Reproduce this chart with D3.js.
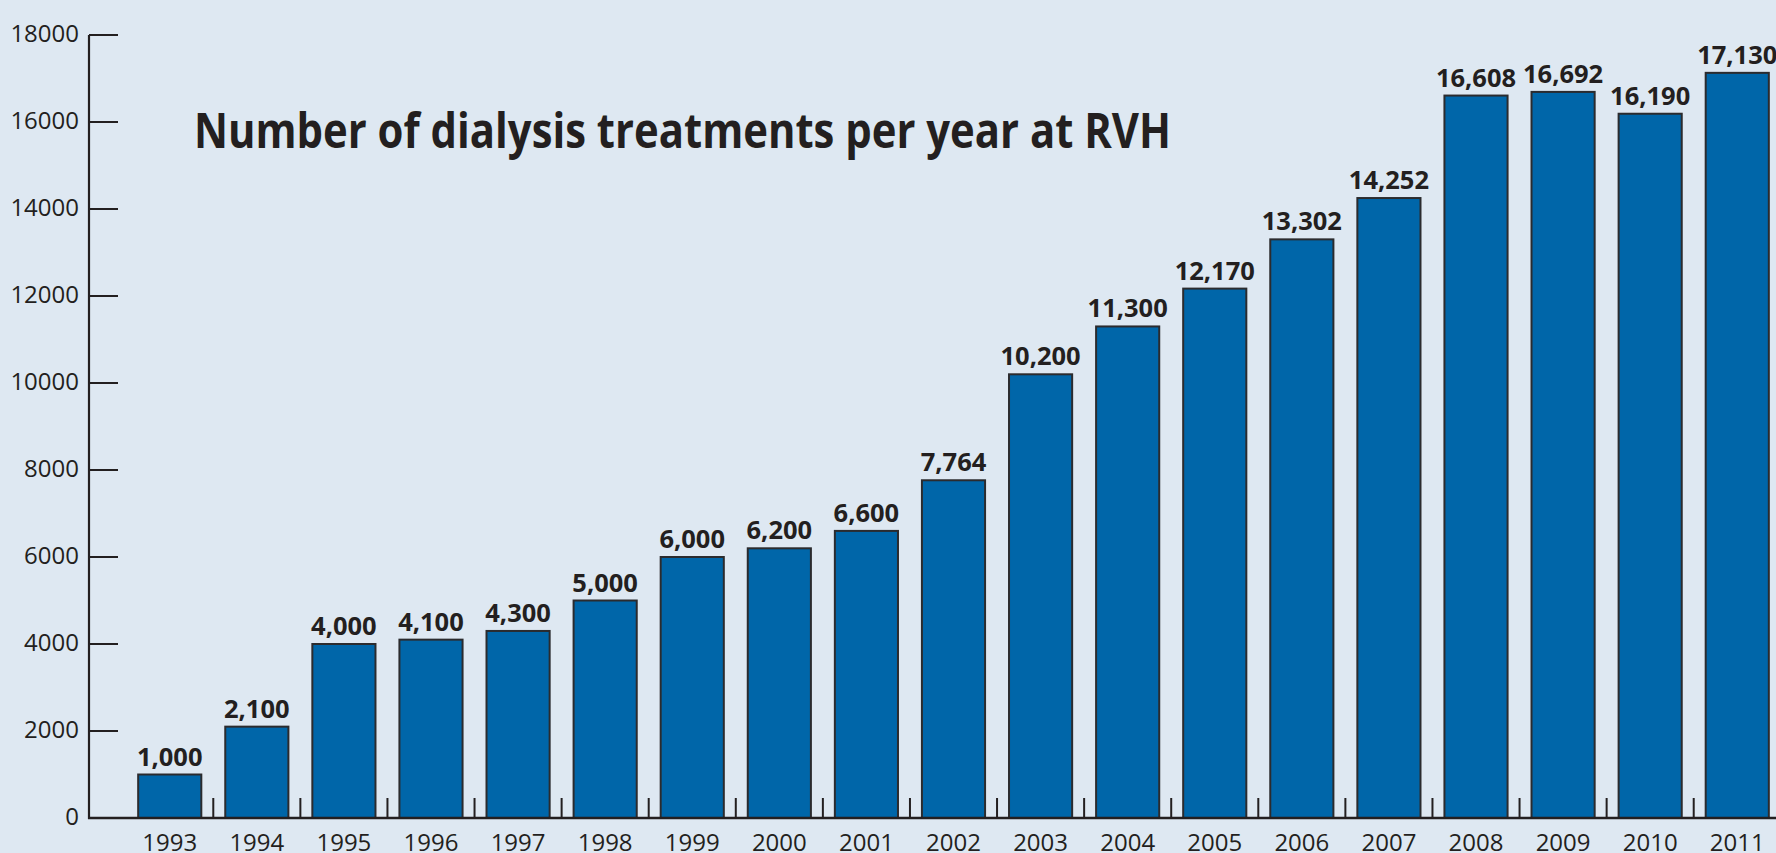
<!DOCTYPE html>
<html>
<head>
<meta charset="utf-8">
<script src="https://cdn.jsdelivr.net/npm/d3@7"></script>
<style>
    html, body { margin: 0; padding: 0; background: #dee8f2; overflow: hidden; }
    #chart { width: 1776px; height: 853px; }
    text { font-family: "Open Sans", "DejaVu Sans", sans-serif; fill: #231f20; }
</style>
</head>
<body>
<div id="chart"></div>
<script>
// data
const years = ["1993", "1994", "1995", "1996", "1997", "1998", "1999", "2000", "2001", "2002",
    "2003", "2004", "2005", "2006", "2007", "2008", "2009", "2010", "2011"]
const treatments = [1000, 2100, 4000, 4100, 4300, 5000, 6000, 6200, 6600, 7764,
    10200, 11300, 12170, 13302, 14252, 16608, 16692, 16190, 17130]
const yTicks = [0, 2000, 4000, 6000, 8000, 10000, 12000, 14000, 16000, 18000]
const chartTitle = "Number of dialysis treatments per year at RVH"

class BarChart {
    constructor(parentElement) {
        this.parentElement = parentElement
        this.initVis()
    }

    initVis() {
        let vis = this

        vis.width = 1776
        vis.height = 853

        vis.svg = d3.select("#" + vis.parentElement).append("svg")
            .attr("width", vis.width)
            .attr("height", vis.height)

        // scales
        vis.x = d3.scaleBand()
            .domain(years)
            .range([126.2, 1780.8])
            .paddingInner(0.275)
            .paddingOuter(0.1375)

        vis.y = d3.scaleLinear()
            .domain([0, 18000])
            .range([818, 35])

        vis.axisX = 89

        this.updateVis()
    }

    updateVis() {
        let vis = this
        let data = years.map((d, i) => ({year: d, value: treatments[i]}))
        let step = vis.x.step()
        let fmt = d3.format(",")

        // bars
        vis.svg.selectAll(".bar")
            .data(data)
            .enter()
            .append("rect")
            .attr("class", "bar")
            .attr("x", d => vis.x(d.year))
            .attr("y", d => vis.y(d.value))
            .attr("width", vis.x.bandwidth())
            .attr("height", d => vis.y(0) - vis.y(d.value))
            .attr("fill", "#0066a9")
            .attr("stroke", "#2b2b2e")
            .attr("stroke-width", 2)

        // value labels
        vis.svg.selectAll(".val")
            .data(data)
            .enter()
            .append("text")
            .attr("class", "val")
            .attr("x", d => vis.x(d.year) + vis.x.bandwidth() / 2)
            .attr("y", d => vis.y(d.value) - 9)
            .attr("text-anchor", "middle")
            .attr("font-size", 25.5)
            .attr("font-weight", "bold")
            .text(d => fmt(d.value))

        // y axis (ticks point inward)
        let yAxis = vis.svg.append("g")
        yAxis.append("line")
            .attr("x1", vis.axisX).attr("x2", vis.axisX)
            .attr("y1", vis.y(18000)).attr("y2", vis.y(0) + 1)
            .attr("stroke", "#231f20").attr("stroke-width", 2.2)
        yAxis.selectAll(".ytick")
            .data(yTicks)
            .enter()
            .append("line")
            .attr("x1", vis.axisX).attr("x2", vis.axisX + 29)
            .attr("y1", d => vis.y(d)).attr("y2", d => vis.y(d))
            .attr("stroke", "#231f20").attr("stroke-width", 2)
        yAxis.selectAll(".ylab")
            .data(yTicks)
            .enter()
            .append("text")
            .attr("x", 79)
            .attr("y", d => vis.y(d))
            .attr("dy", "0.3em")
            .attr("text-anchor", "end")
            .attr("font-size", 24)
            .text(d => d)

        // x axis
        let xAxis = vis.svg.append("g")
        xAxis.append("line")
            .attr("x1", vis.axisX - 1).attr("x2", vis.width)
            .attr("y1", vis.y(0)).attr("y2", vis.y(0))
            .attr("stroke", "#231f20").attr("stroke-width", 2.4)
        // small ticks between bars
        xAxis.selectAll(".xtick")
            .data(years.slice(1))
            .enter()
            .append("line")
            .attr("x1", d => vis.x(d) - step * 0.1375)
            .attr("x2", d => vis.x(d) - step * 0.1375)
            .attr("y1", vis.y(0)).attr("y2", vis.y(0) - 20)
            .attr("stroke", "#231f20").attr("stroke-width", 2)
        xAxis.selectAll(".xlab")
            .data(years)
            .enter()
            .append("text")
            .attr("x", d => vis.x(d) + vis.x.bandwidth() / 2)
            .attr("y", 851)
            .attr("text-anchor", "middle")
            .attr("font-size", 24)
            .text(d => d)

        // title
        vis.svg.append("text")
            .attr("x", 194)
            .attr("y", 148)
            .attr("font-size", 49)
            .attr("font-weight", "bold")
            .attr("textLength", 977)
            .attr("lengthAdjust", "spacingAndGlyphs")
            .text(chartTitle)
    }
}

new BarChart("chart")
</script>
</body>
</html>
